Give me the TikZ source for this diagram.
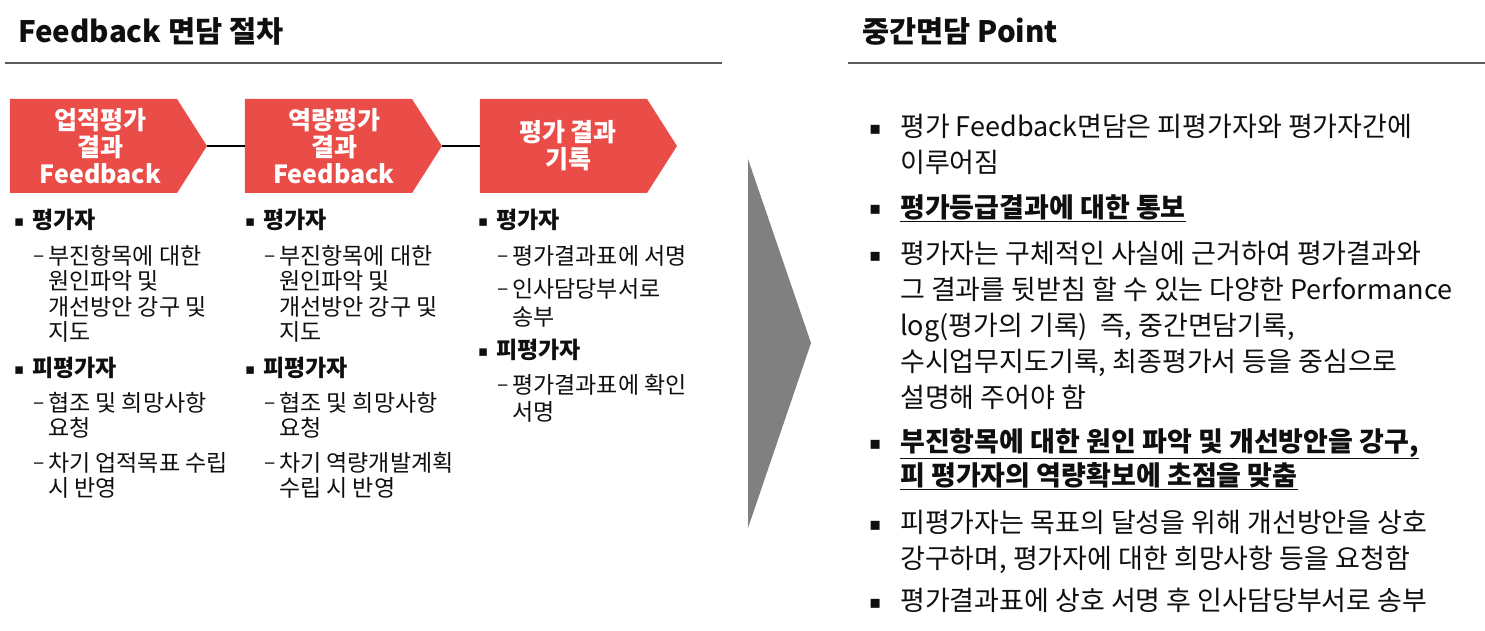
\documentclass[tikz,border=0pt]{standalone}
\usepackage{fontspec}
\setmainfont{Noto Sans CJK KR}
\newfontfamily\dejavu{DejaVu Sans}
\usetikzlibrary{shapes.symbols}
\definecolor{chev}{RGB}{234,76,72}
\definecolor{rulegray}{RGB}{90,90,90}
\definecolor{arrowgray}{RGB}{128,128,128}
\definecolor{txt}{RGB}{15,15,15}
\newcommand\lbul{\makebox[18pt][l]{\raisebox{2pt}{\dejavu\fontsize{15}{15}\selectfont ▪}}}
\newcommand\ldash{\makebox[15pt][l]{\raisebox{2pt}{\fontsize{21}{21}\selectfont –}}}
\newcommand\rbul{\makebox[31pt][l]{\raisebox{2pt}{\dejavu\fontsize{18}{18}\selectfont ▪}}}
\newcommand\lind{\hspace*{15pt}}
\newcommand\rind{\hspace*{31pt}}
\begin{document}
\begin{tikzpicture}[x=1pt,y=-1pt,
  chevron/.style={signal, signal to=east, signal from=nowhere, signal pointer angle=115,
     fill=chev, draw=none, minimum width=197pt, minimum height=94pt, inner sep=0pt},
  chevtext/.style={text=white, font=\bfseries\fontsize{25}{27}\selectfont, align=center, inner sep=0pt},
  head/.style={font=\bfseries\fontsize{29.5}{32}\selectfont, anchor=base west, inner sep=0pt, text=txt},
  litem/.style={font=\fontsize{23}{25.5}\selectfont, anchor=base west, align=left, inner sep=0pt, text=txt},
  lhead/.style={litem, font=\bfseries\fontsize{23}{25.5}\selectfont},
  ritem/.style={font=\fontsize{27}{36}\selectfont, anchor=base west, align=left, inner sep=0pt, text=txt},
  rbold/.style={ritem, font=\bfseries\fontsize{27}{34}\selectfont},
  rulestyle/.style={draw=rulegray, line width=2pt},
  link/.style={draw=black, line width=1.6pt}
]
\useasboundingbox (0,0) rectangle (1485,631);

% headers
\node[head] (h1) at (18,43) {Feedback 면담 절차};
\node[head] (h2) at (862,43) {중간면담 Point};
\coordinate (l1a) at (5,63); \coordinate (l1b) at (722,63);
\coordinate (l2a) at (848,63); \coordinate (l2b) at (1485,63);
\draw[rulestyle] (l1a) -- (l1b);
\draw[rulestyle] (l2a) -- (l2b);

% chevrons
\node[chevron] (c1) at (93.5,146) {};
\node[chevron] (c2) at (328.5,146) {};
\node[chevron] (c3) at (563.5,146) {};
\node[chevtext] (t1) at ([xshift=7pt]c1.center) {업적평가\\결과\\Feedback};
\node[chevtext] (t2) at ([xshift=5.5pt]c2.center) {역량평가\\결과\\Feedback};
\node[chevtext] (t3) at ([xshift=4.5pt]c3.center) {평가 결과\\기록};
\draw[link] (c1.east) -- (c2.west);
\draw[link] (c2.east) -- (c3.west);

% column 1 (multi-line nodes are placed at the baseline of their last line)
\node[lhead] (a1) at (14,228.5) {\lbul 평가자};
\node[litem] (a2) at (33,340.5) {\ldash 부진항목에 대한\\\lind 원인파악 및\\\lind 개선방안 강구 및\\\lind 지도};
\node[lhead] (a3) at (14,376.5) {\lbul 피평가자};
\node[litem] (a4) at (33,436.5) {\ldash 협조 및 희망사항\\\lind 요청};
\node[litem] (a5) at (33,496.5) {\ldash 차기 업적목표 수립\\\lind 시 반영};

% column 2
\node[lhead] (b1) at (245,228.5) {\lbul 평가자};
\node[litem] (b2) at (264,340.5) {\ldash 부진항목에 대한\\\lind 원인파악 및\\\lind 개선방안 강구 및\\\lind 지도};
\node[lhead] (b3) at (245,376.5) {\lbul 피평가자};
\node[litem] (b4) at (264,436.5) {\ldash 협조 및 희망사항\\\lind 요청};
\node[litem] (b5) at (264,496.5) {\ldash 차기 역량개발계획\\\lind 수립 시 반영};

% column 3
\node[lhead] (d1) at (478,228.5) {\lbul 평가자};
\node[litem] (d2) at (497,264.5) {\ldash 평가결과표에 서명};
\node[litem, font=\fontsize{23}{28}\selectfont] (d3) at (497,325.5) {\ldash 인사담당부서로\\\lind 송부};
\node[lhead] (d4) at (478,358.5) {\lbul 피평가자};
\node[litem, font=\fontsize{23}{27}\selectfont] (d5) at (497,420.5) {\ldash 평가결과표에 확인\\\lind 서명};

% big grey arrow
\fill[arrowgray] (748,159) -- (811,343) -- (748,528) -- cycle;

% right side
\node[ritem] (r1) at (869,173) {\rbul 평가 Feedback면담은 피평가자와 평가자간에\\\rind 이루어짐};
\node[rbold] (r2) at (869,217) {\rbul \underline{평가등급결과에 대한 통보}};
\node[ritem] (r3) at (869,407) {\rbul 평가자는 구체적인 사실에 근거하여 평가결과와\\\rind 그 결과를 뒷받침 할 수 있는 다양한 Performance\\\rind log(평가의 기록)\ \ 즉, 중간면담기록,\\\rind 수시업무지도기록, 최종평가서 등을 중심으로\\\rind 설명해 주어야 함};
\node[rbold] (r4) at (869,485) {\rbul \underline{부진항목에 대한 원인 파악 및 개선방안을 강구,}\\\rind \underline{피 평가자의 역량확보에 초점을 맞춤}};
\node[ritem] (r5) at (869,568) {\rbul 피평가자는 목표의 달성을 위해 개선방안을 상호\\\rind 강구하며, 평가자에 대한 희망사항 등을 요청함};
\node[ritem] (r6) at (869,610) {\rbul 평가결과표에 상호 서명 후 인사담당부서로 송부};
\end{tikzpicture}
\end{document}
